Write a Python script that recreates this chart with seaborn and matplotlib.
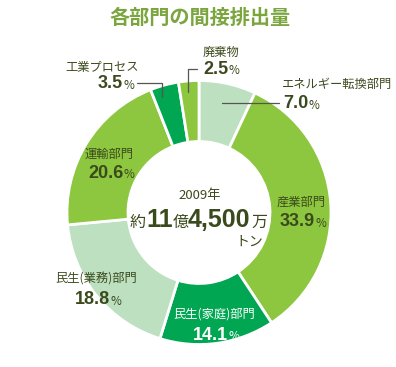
import matplotlib
matplotlib.use("Agg")
import matplotlib.pyplot as plt
import seaborn as sns

# data
sectors = ["エネルギー転換部門", "産業部門", "民生(家庭)部門", "民生(業務)部門",
           "運輸部門", "工業プロセス", "廃棄物"]
shares = [7.0, 33.9, 14.1, 18.8, 20.6, 3.5, 2.5]
share_labels = ["7.0", "33.9", "14.1", "18.8", "20.6", "3.5", "2.5"]

LIGHT = "#bde0c0"
YG = "#8dc63f"
GREEN = "#00a651"
colors = [LIGHT, YG, GREEN, LIGHT, YG, GREEN, YG]

TXT = "#3b4a1d"
TITLE = "#7ba63f"

sns.set_theme(style="white")
plt.rcParams["font.family"] = ["Noto Sans CJK JP", "DejaVu Sans"]
bold = ["Liberation Sans", "DejaVu Sans"]

W, H = 396, 367
fig = plt.figure(figsize=(W / 100, H / 100), dpi=100)
ax = fig.add_axes([0, 0, 1, 1])

cx, cy, r_out, r_in = 199, 212.5, 132, 71
# y axis is inverted below, so startangle=-90 is the top and ccw draws clockwise
ax.pie(shares, colors=colors, startangle=-90, counterclock=True,
       center=(cx, cy), radius=r_out,
       wedgeprops=dict(width=r_out - r_in, edgecolor="white", linewidth=2))
ax.set_xlim(0, W)
ax.set_ylim(H, 0)
ax.set_aspect("equal")
ax.axis("off")

ax.text(200, 17, "各部門の間接排出量", ha="center", va="center",
        fontsize=14.5, color=TITLE, fontweight="bold")

# label name position, number position (left x, y), number colour
label_pos = {
    "エネルギー転換部門": ((282, 84), (283, 104), TXT),
    "産業部門": ((277, 202), (280, 222), TXT),
    "民生(家庭)部門": ((173, 314), (193, 335), "white"),
    "民生(業務)部門": ((55, 279), (75, 300), TXT),
    "運輸部門": ((85, 154), (88, 173), TXT),
    "工業プロセス": ((65, 68), (98, 84), TXT),
    "廃棄物": ((203, 52), (203, 69), TXT),
}


def draw_label(name, val):
    (nx, ny), (vx, vy), c = label_pos[name]
    ax.text(nx, ny, name, ha="left", va="center", fontsize=8.8, color=c)
    t = ax.text(vx, vy, val, ha="left", va="center", fontsize=13,
                fontweight="bold", color=c, family=bold)
    ax.annotate("%", xy=(1, 0), xycoords=t, xytext=(0.5, 0.3),
                textcoords="offset points", ha="left", va="bottom",
                fontsize=8.5, color=c)


for name, val in zip(sectors, share_labels):
    draw_label(name, val)

# leader lines
lc = "#555555"
ax.plot([222, 279], [103, 103], color=lc, lw=0.9)
ax.plot([137, 162, 162], [83, 83, 97], color=lc, lw=0.9)
ax.plot([197, 188, 188], [69, 69, 92], color=lc, lw=0.9)

# centre text
ax.text(200, 195, "2009年", ha="center", va="center", fontsize=9.5, color=TXT)
base = 227
ax.text(130, base, "約", ha="left", va="baseline", fontsize=11.5, color=TXT)
ax.text(146, base, "11", ha="left", va="baseline", fontsize=18, fontweight="bold",
        color=TXT, family=bold)
ax.text(173, base, "億", ha="left", va="baseline", fontsize=11.5, color=TXT)
ax.text(188, base, "4,500", ha="left", va="baseline", fontsize=18, fontweight="bold",
        color=TXT, family=bold)
ax.text(251, base, "万", ha="left", va="baseline", fontsize=11.5, color=TXT)
ax.text(235, 242, "トン", ha="left", va="center", fontsize=10, color=TXT)

fig.savefig("out.png", dpi=100, facecolor="white")
